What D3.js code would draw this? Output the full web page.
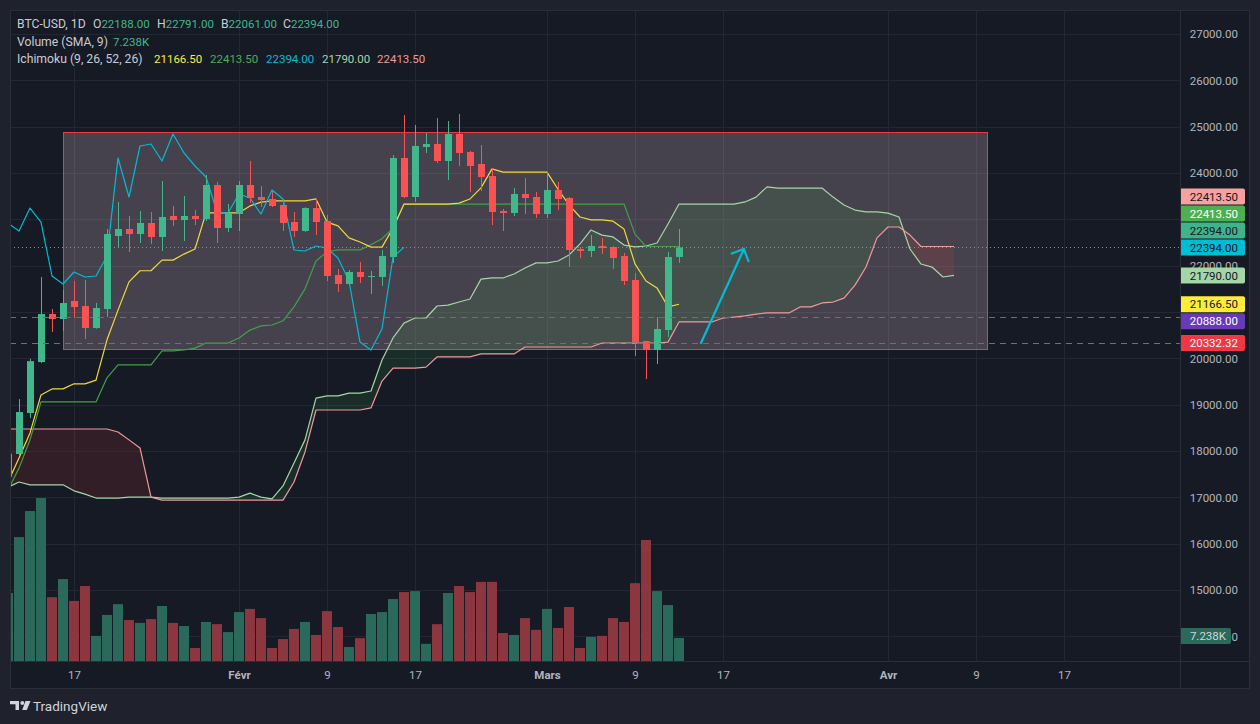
<!DOCTYPE html>
<html><head><meta charset="utf-8">
<script src="https://cdn.jsdelivr.net/npm/d3@7/dist/d3.min.js"></script>
<style>html,body{margin:0;padding:0;background:#1f222d;overflow:hidden}svg{display:block}</style>
</head><body>
<svg id="c" width="1260" height="724"></svg>
<script>
// ---------- DATA ----------
const startDate = "2023-01-11";
const opens  = [17440,17935,18820,19920,20956,20849,21237,21129,20654,21064,22640,22791,22683,22921,22618,23072,22985,23072,23007,23741,22813,23115,23741,23482,23439,23309,22942,22748,23244,22964,21798,21604,21863,21755,21755,22187,24324,23482,24561,24626,24259,24842,24453,24194,23935,23180,23136,23547,23482,23115,23633,23460,22360,22316,22424,22403,22208,21690,20374,20179,20611,22188];
const highs  = [17990,19120,19990,21755,21064,21475,21669,21690,21194,22791,23374,23072,23180,23158,23827,23288,23503,23201,23957,23806,23331,23827,24259,23719,23611,23439,23158,23260,23439,23093,21928,21906,22079,21885,22338,24388,25252,25036,24863,25187,25122,25273,24475,24604,24108,23223,23676,23892,23590,24021,23806,23482,22403,22662,22597,22420,22273,21841,20380,20892,22295,22791];
const lows   = [17320,17910,18710,19900,20568,20590,20870,20417,20640,20892,22381,22295,22489,22467,22316,22856,22532,22877,22964,22489,22726,22748,23352,23266,23266,22748,22618,22730,22662,21669,21431,21590,21626,21388,21561,22057,23460,23374,24432,24216,23849,24151,23590,23611,22877,22748,23072,23115,23029,23029,23201,21971,22165,22187,22252,21928,21582,20050,19554,19877,20460,22061];
const closes = [17940,18840,19940,20956,20849,21194,21108,20654,21086,22683,22791,22683,22921,22618,23050,22985,23072,23007,23741,22813,23136,23741,23460,23417,23288,22921,22748,23244,22942,21777,21604,21863,21755,21777,22208,24324,23482,24583,24626,24259,24842,24432,24151,23913,23158,23136,23547,23460,23115,23633,23439,22338,22316,22424,22381,22165,21669,20352,20179,20633,22187,22394];
const volumesK = [21.4,39.0,47.2,51.3,20.1,25.8,18.9,23.6,7.9,14.5,17.9,12.9,12.0,13.2,17.3,12.0,11.0,4.1,12.3,11.6,9.1,15.4,16.4,13.5,4.1,6.9,10.1,12.3,8.2,15.7,10.7,4.4,7.2,14.8,15.4,19.5,21.7,22.0,5.4,11.6,21.4,23.6,21.7,24.9,24.9,8.8,8.2,13.5,9.8,16.4,10.4,17.0,4.1,7.6,7.9,13.5,12.3,24.5,38.1,22.0,17.6,7.238];
// Ichimoku (9, 26, 52, 26)
const tenkan = [17330,17850,18390,19210,19340,19340,19450,19450,19530,20400,21040,21650,21890,21890,22120,22120,22250,22360,23140,23140,23140,23140,23290,23370,23400,23400,23400,23400,23440,22940,22860,22600,22510,22400,22400,22810,23330,23330,23330,23330,23330,23350,23440,23680,24090,24020,24020,24020,24020,24020,23650,23310,23050,22990,22990,22960,22790,22040,21670,21520,21110,21166.5];
const kijun  = [17160,17630,18240,19060,19060,19060,19060,19060,19060,19580,19860,19860,19860,19860,20160,20160,20180,20220,20330,20330,20330,20440,20610,20700,20720,20810,21110,21500,22100,22300,22340,22340,22340,22450,22580,22810,23330,23330,23330,23330,23330,23330,23330,23330,23330,23330,23330,23330,23330,23330,23330,23330,23330,23330,23330,23330,23330,22680,22413.5,22413.5,22413.5,22413.5];
// leading spans, already displaced (index 0 = startDate)
const spanA = [17220,17330,17270,17270,17270,17270,17140,17070,16985,16985,16985,17005,17005,17005,16985,16985,16985,16985,16985,16985,16985,17005,17090,17005,16965,17245,17740,18240,19140,19190,19190,19250,19250,19295,19965,20440,20760,20870,20870,21130,21150,21215,21280,21710,21735,21735,21820,21950,22060,22060,22100,22230,22470,22770,22660,22620,22445,22405,22425,22490,22900,23330,23330,23330,23330,23330,23330,23375,23480,23700,23675,23675,23675,23675,23675,23480,23310,23200,23160,23160,23135,23050,22360,22035,21970,21755,21790];
const spanB = [18475,18475,18475,18475,18475,18475,18475,18475,18475,18475,18410,18240,18065,17005,16940,16940,16940,16940,16940,16940,16940,16940,16940,16940,16940,16940,17330,17980,18885,18885,18885,18885,18885,18930,19510,19790,19790,19790,19810,20030,20030,20030,20030,20095,20095,20095,20095,20245,20245,20245,20245,20245,20245,20245,20330,20330,20330,20330,20330,20330,20350,20785,20785,20785,20785,20870,20890,20915,20955,20980,20980,20980,21110,21110,21195,21215,21300,21580,21970,22600,22835,22835,22660,22413.5,22413.5,22413.5,22413.5];
const chikouShift = 25;
// drawings
const boxDates = ["2023-01-16","2023-04-10"];
const boxPrices = [24885, 20200];
const arrowDates = ["2023-03-15T00:00","2023-03-18T21:36"];
const arrowPrices = [20330, 22360];
const levelValues = [20888, 20332.32];
const lastClose = 22394;
// axes
const priceTicks = [14000,15000,16000,17000,18000,19000,20000,21000,22000,23000,24000,25000,26000,27000];
const xTickDates = ["2023-01-17","2023-02-01","2023-02-09","2023-02-17","2023-03-01","2023-03-09","2023-03-17","2023-04-01","2023-04-09","2023-04-17"];
const xTickLabels = ["17","Févr","9","17","Mars","9","17","Avr","9","17"];
const axisLabelValues = [22413.5, 22413.5, 22394, 22394, 21790, 21166.5, 20888, 20332.32];
// legend
const legendTitle = "BTC-USD, 1D";
const legendOHLCKeys = ["O","H","B","C"];
const legendOHLC = [22188, 22791, 22061, 22394];
const legendVolName = "Volume (SMA, 9)";
const legendVol = "7.238K";
const legendIchiName = "Ichimoku (9, 26, 52, 26)";
const legendIchi = [21166.5, 22413.5, 22394, 21790, 22413.5];

// ---------- STYLE ----------
const C = {
  outer:"#1f222d", pane:"#161a25", border:"#2a2e39", grid:"#232733", text:"#b2b5be", title:"#c9ccd4",
  up:"#40b88c", down:"#fa5252", volUp:"#2b6a5b", volDown:"#8c3640",
  tenkan:"#f2da3a", kijun:"#43a047", chikou:"#00bcd4", spanA:"#a5d6a7", spanB:"#ef9a9a",
  legTenkan:"#ffeb3b", legKijun:"#4caf50"
};
const axisLabelFill = ["#f7a1a1","#4caf50","#3fb38b","#00bcd4","#a5d6a7","#ffeb3b","#673ab7","#f23645"];
const axisLabelInk  = ["#131722","#ffffff","#131722","#131722","#131722","#131722","#ffffff","#ffffff"];
const levelColors = ["#7e57c2","#f23645"];
const FONT = "Roboto, 'Noto Sans', 'DejaVu Sans', sans-serif";

const plot = {l:10, r:1180, t:10, b:661};
const svg = d3.select("#c").style("font-family", FONT);
const parse = d3.utcParse("%Y-%m-%d");
const parseT = d3.utcParse("%Y-%m-%dT%H:%M");
const d0 = parse(startDate);
const dates = closes.map((_, i) => d3.utcDay.offset(d0, i));
const spanDates = spanA.map((_, i) => d3.utcDay.offset(d0, i));

const x = d3.scaleUtc().domain([parse("2023-01-17"), parse("2023-04-17")]).range([74, 1064]);
const y = d3.scaleLinear().domain([15000, 27000]).range([590, 34]);
const yv = d3.scaleLinear().domain([0, 52]).range([661, 495.8]);

// background
svg.append("rect").attr("width",1260).attr("height",724).attr("fill",C.outer);
svg.append("rect").attr("x",10.5).attr("y",10.5).attr("width",1239).attr("height",678)
  .attr("fill",C.pane).attr("stroke",C.border);

const defs = svg.append("defs");
defs.append("clipPath").attr("id","plotClip").append("rect")
  .attr("x",plot.l+1).attr("y",plot.t+1).attr("width",plot.r-plot.l-1).attr("height",plot.b-plot.t-1);

const g = svg.append("g").attr("clip-path","url(#plotClip)");

// grid
g.append("g").selectAll("line").data(priceTicks).join("line")
  .attr("x1",plot.l).attr("x2",plot.r)
  .attr("y1",d=>Math.round(y(d))+0.5).attr("y2",d=>Math.round(y(d))+0.5)
  .attr("stroke",C.grid);
g.append("g").selectAll("line").data(xTickDates.map(parse)).join("line")
  .attr("y1",plot.t).attr("y2",plot.b)
  .attr("x1",d=>Math.round(x(d))+0.5).attr("x2",d=>Math.round(x(d))+0.5)
  .attr("stroke",C.grid);

// volume
const isUp = i => closes[i] >= opens[i];
g.append("g").selectAll("rect").data(volumesK).join("rect")
  .attr("x",(d,i)=>Math.round(x(dates[i]))-5)
  .attr("width",10)
  .attr("y",d=>yv(d)).attr("height",d=>yv(0)-yv(d))
  .attr("fill",(d,i)=>isUp(i)?C.volUp:C.volDown);

// rectangle drawing
const bx0 = x(parse(boxDates[0])), bx1 = x(parse(boxDates[1]));
const by0 = y(boxPrices[0]), by1 = y(boxPrices[1]);
g.append("rect").attr("x",Math.round(bx0)+0.5).attr("y",Math.round(by0)+0.5)
  .attr("width",Math.round(bx1-bx0)).attr("height",Math.round(by1-by0))
  .attr("fill","rgba(235,200,210,0.23)").attr("stroke","#f23645").attr("stroke-width",1);

// cloud
const cloud = spanDates.map((d,i)=>({d, a:spanA[i], b:spanB[i]}));
const between = d3.area().x(p=>x(p.d)).y0(p=>y(p.b)).y1(p=>y(p.a));
const aboveB = d3.area().x(p=>x(p.d)).y0(-1000).y1(p=>y(p.b));
const belowB = d3.area().x(p=>x(p.d)).y0(p=>y(p.b)).y1(3000);
defs.append("clipPath").attr("id","clipAbove").append("path").attr("d",aboveB(cloud));
defs.append("clipPath").attr("id","clipBelow").append("path").attr("d",belowB(cloud));
g.append("path").attr("d",between(cloud)).attr("fill","rgba(67,160,71,0.14)").attr("clip-path","url(#clipAbove)");
g.append("path").attr("d",between(cloud)).attr("fill","rgba(244,67,54,0.12)").attr("clip-path","url(#clipBelow)");

const line = d3.line().x(p=>x(p[0])).y(p=>y(p[1]));
function drawLine(ds, vs, color, w){
  g.append("path").attr("d",line(vs.map((v,i)=>[ds[i],v]))).attr("fill","none")
   .attr("stroke",color).attr("stroke-width",w||1.2).attr("stroke-linejoin","round");
}
drawLine(spanDates, spanA, C.spanA);
drawLine(spanDates, spanB, C.spanB);
drawLine(dates, kijun, C.kijun);
drawLine(dates, tenkan, C.tenkan);
drawLine(dates.map(d=>d3.utcDay.offset(d,-chikouShift)), closes, C.chikou);

// candles
const cg = g.append("g");
closes.forEach((c,i)=>{
  const cx = Math.round(x(dates[i]));
  const col = isUp(i)?C.up:C.down;
  cg.append("line").attr("x1",cx+0.5).attr("x2",cx+0.5).attr("y1",y(highs[i])).attr("y2",y(lows[i]))
    .attr("stroke",col).attr("stroke-width",1);
  const top = y(Math.max(opens[i],c)), bot = y(Math.min(opens[i],c));
  cg.append("rect").attr("x",cx-3).attr("width",7).attr("y",top).attr("height",Math.max(1,bot-top)).attr("fill",col);
});

// price lines
g.append("line").attr("x1",plot.l).attr("x2",plot.r)
  .attr("y1",Math.round(y(lastClose))+0.5).attr("y2",Math.round(y(lastClose))+0.5)
  .attr("stroke",C.up).attr("stroke-dasharray","1 3").attr("stroke-width",1);
levelValues.forEach((v,i)=>{
  g.append("line").attr("x1",plot.l).attr("x2",plot.r)
   .attr("y1",Math.round(y(v))+0.5).attr("y2",Math.round(y(v))+0.5)
   .attr("stroke",levelColors[i]).attr("stroke-dasharray","6 5").attr("stroke-width",1);
});

// arrow
const ax0 = x(parseT(arrowDates[0])), ay0 = y(arrowPrices[0]);
const ax1 = x(parseT(arrowDates[1])), ay1 = y(arrowPrices[1]);
const ang = Math.atan2(ay0-ay1, ax0-ax1);
const hl = 13, ha = Math.PI/4;
const ag = g.append("g").attr("stroke","#00bcd4").attr("stroke-width",2.2).attr("fill","none").attr("stroke-linecap","round");
ag.append("line").attr("x1",ax0).attr("y1",ay0).attr("x2",ax1).attr("y2",ay1);
ag.append("path").attr("d",
  `M${ax1+hl*Math.cos(ang+ha)},${ay1+hl*Math.sin(ang+ha)}L${ax1},${ay1}L${ax1+hl*Math.cos(ang-ha)},${ay1+hl*Math.sin(ang-ha)}`);

// separators
svg.append("line").attr("x1",plot.r+0.5).attr("x2",plot.r+0.5).attr("y1",10).attr("y2",689).attr("stroke",C.border);
svg.append("line").attr("x1",10).attr("x2",1250).attr("y1",plot.b+0.5).attr("y2",plot.b+0.5).attr("stroke",C.border);

// axis value labels with stacking
const ideal = axisLabelValues.map(v=>y(v));
const ly = ideal.slice();
for(let i=ly.length-2;i>=0;i--){ if(Math.abs(ideal[i]-ideal[i+1])<4) ly[i]=Math.min(ly[i], ly[i+1]-17); }
for(let i=1;i<ly.length;i++){ if(Math.abs(ideal[i]-ideal[i-1])>=4) ly[i]=Math.max(ly[i], ly[i-1]+17); }
const vly = yv(volumesK[volumesK.length-1]) - 2;
const coveredCenters = ly.concat([vly]);

// price axis (tick labels that sit fully under a value label are not drawn, as in the reference)
const visibleTicks = priceTicks.filter(t => !coveredCenters.some(c => Math.abs(c - y(t)) < 9) || t === 14000);
const yAxis = svg.append("g").attr("transform","translate(1238,0)")
  .call(d3.axisRight(y).tickValues(visibleTicks).tickFormat(d3.format(".2f")).tickSize(0).tickPadding(0));
yAxis.select(".domain").remove();
yAxis.selectAll("text").attr("text-anchor","end").attr("x",0).attr("fill",C.text)
  .style("font-size","11.5px").style("font-family",FONT);

const lg = svg.append("g");
axisLabelValues.forEach((v,i)=>{
  lg.append("path").attr("d",`M1181,${ly[i]-8}H1243a2,2 0 0 1 2,2V${ly[i]+6}a2,2 0 0 1 -2,2H1181Z`).attr("fill",axisLabelFill[i]);
  lg.append("text").attr("x",1238).attr("y",ly[i]).attr("dy","0.36em").attr("text-anchor","end")
    .attr("fill",axisLabelInk[i]).style("font-size","11.5px").text(d3.format(".2f")(v));
});
// volume label
lg.append("path").attr("d",`M1181,${vly-8}H1229a2,2 0 0 1 2,2V${vly+6}a2,2 0 0 1 -2,2H1181Z`).attr("fill",C.volUp);
lg.append("text").attr("x",1226).attr("y",vly).attr("dy","0.36em").attr("text-anchor","end")
  .attr("fill","#d1d4dc").style("font-size","11.5px").text(legendVol);

// time axis
const xAxis = svg.append("g").attr("transform",`translate(0,${plot.b})`)
  .call(d3.axisBottom(x).tickValues(xTickDates.map(parse)).tickFormat((d,i)=>xTickLabels[i]).tickSize(0).tickPadding(0));
xAxis.select(".domain").remove();
xAxis.selectAll("text").attr("y",14).attr("dy","0.36em").attr("fill",C.text)
  .style("font-size","11.5px").style("font-family",FONT)
  .style("font-weight",(d,i)=>/^\d+$/.test(xTickLabels[i])?"normal":"bold");

// legend
const fmt2 = d3.format(".2f");
const leg = svg.append("g").style("font-size","11.5px");
leg.append("text").attr("x",17).attr("y",24).attr("dy","0.36em").attr("fill",C.title).style("font-size","12.2px").text(legendTitle);
const ohlcX = [93,157,221,283];
legendOHLC.forEach((v,i)=>{
  const t = leg.append("text").attr("x",ohlcX[i]).attr("y",24).attr("dy","0.36em");
  t.append("tspan").attr("fill",C.title).style("font-size","12.2px").text(legendOHLCKeys[i]);
  t.append("tspan").attr("fill",C.up).text(fmt2(v));
});
leg.append("text").attr("x",17).attr("y",42).attr("dy","0.36em").attr("fill",C.title).style("font-size","12.2px").text(legendVolName);
leg.append("text").attr("x",113).attr("y",42).attr("dy","0.36em").attr("fill",C.up).text(legendVol);
leg.append("text").attr("x",17).attr("y",59).attr("dy","0.36em").attr("fill",C.title).style("font-size","12.2px").text(legendIchiName);
const ichiX = [154,210,266,322,377];
const ichiCol = [C.legTenkan, C.legKijun, C.chikou, C.spanA, C.spanB];
legendIchi.forEach((v,i)=>{
  leg.append("text").attr("x",ichiX[i]).attr("y",59).attr("dy","0.36em").attr("fill",ichiCol[i]).text(fmt2(v));
});

// TradingView logo
const logo = svg.append("g").attr("fill","#d1d4dc");
logo.append("path").attr("d","M10,701H19V710H15.5V704.2H10Z");
logo.append("circle").attr("cx",22.3).attr("cy",703).attr("r",1.9);
logo.append("path").attr("d","M25.5,701H30.5L26.8,710H22.2Z");
logo.append("text").attr("x",33).attr("y",706).attr("dy","0.36em").style("font-size","13.5px").text("TradingView");
</script>
</body></html>
